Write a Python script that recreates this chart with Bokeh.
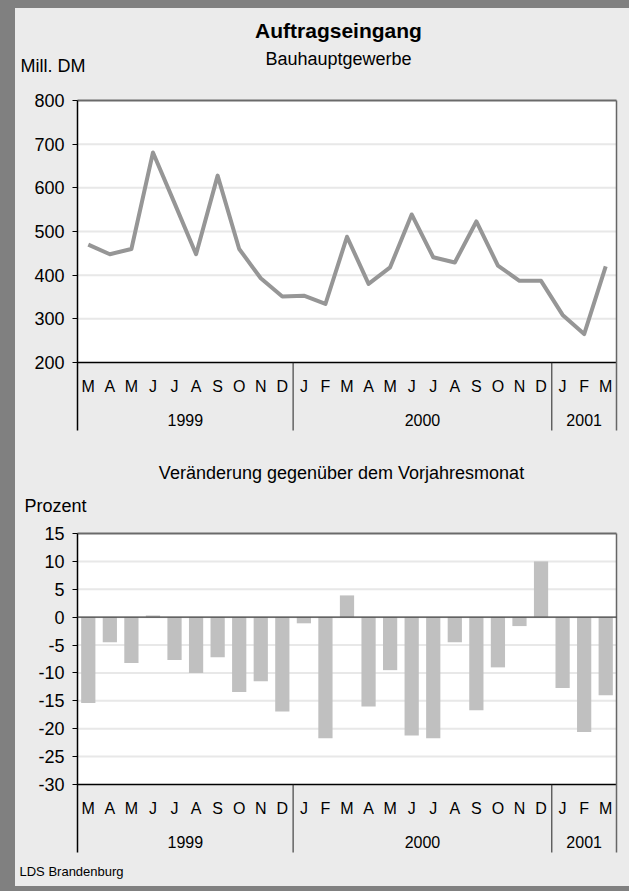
from bokeh.plotting import figure
from bokeh.models import Range1d, FixedTicker, ColumnDataSource, Div
from bokeh.layouts import row, column
from bokeh.embed import file_html
from bokeh.resources import INLINE
from bokeh.core.properties import value

# ---------------- data ----------------
months = ["M", "A", "M", "J", "J", "A", "S", "O", "N", "D",
          "J", "F", "M", "A", "M", "J", "J", "A", "S", "O", "N", "D",
          "J", "F", "M"]
years = ["1999", "2000", "2001"]
months_per_year = [10, 12, 3]

orders = [470, 448, 460, 681, 565, 448, 628, 460, 393, 351,
          353, 334, 488, 380, 418, 539, 441, 429, 523, 422, 387, 387,
          309, 265, 420]
change = [-15.4, -4.5, -8.2, 0.3, -7.7, -10.0, -7.2, -13.4, -11.5, -16.9,
          -1.1, -21.7, 3.9, -16.0, -9.5, -21.2, -21.7, -4.5, -16.7, -9.0, -1.6, 10.0,
          -12.7, -20.6, -14.0]

orders_ticks = [200, 300, 400, 500, 600, 700, 800]
change_ticks = [-30, -25, -20, -15, -10, -5, 0, 5, 10, 15]

title = "Auftragseingang"
subtitle = "Bauhauptgewerbe"
unit1 = "Mill. DM"
title2 = "Veränderung gegenüber dem Vorjahresmonat"
unit2 = "Prozent"
source_note = "LDS Brandenburg"

# ---------------- layout constants (page pixels) ----------------
FONT = "Liberation Sans"
BG = "#EBEBEB"
FRAME_GRAY = "#808080"
PAGE_W, PAGE_H = 629, 891
BAND_L, BAND_T, BAND_B = 15, 8, 5
FIG_W = PAGE_W - BAND_L
AREA_L, AREA_R = 77, 616          # plotting area left/right (page x)
n = len(months)
PPU = (AREA_R - AREA_L) / n


def xdat(px):
    return -0.5 + (px - AREA_L) / PPU


def make_fig(top_px, H, ticks, tick_top_px, tick_bot_px):
    upp = (ticks[-1] - ticks[0]) / (tick_bot_px - tick_top_px)

    def ydat(py):
        return ticks[-1] - (py - tick_top_px) * upp

    p = figure(width=FIG_W, height=H,
               x_range=Range1d(xdat(BAND_L), xdat(BAND_L + FIG_W)),
               y_range=Range1d(ydat(top_px + H), ydat(top_px)),
               output_backend="svg", toolbar_location=None, x_axis_location=None,
               min_border=0, min_border_left=0, min_border_right=0,
               min_border_top=0, min_border_bottom=0,
               background_fill_color=BG, border_fill_color=BG,
               outline_line_color=None, margin=0)
    ax = p.yaxis[0]
    ax.fixed_location = -0.5
    ax.ticker = FixedTicker(ticks=ticks)
    ax.major_label_overrides = {t: str(t) for t in ticks}
    ax.axis_line_color = None
    ax.major_tick_line_color = "black"
    ax.major_tick_out = 5
    ax.major_tick_in = 0
    ax.minor_tick_line_color = None
    ax.major_label_standoff = 8
    ax.major_label_text_font = FONT
    ax.major_label_text_font_size = "18px"
    ax.major_label_text_color = "black"
    p.xgrid.visible = False
    p.ygrid.visible = False

    x_lo, x_hi = -0.5, n - 0.5
    # white plotting area
    p.quad(left=[x_lo], right=[x_hi], bottom=[ticks[0]], top=[ticks[-1]],
           fill_color="white", line_color=None)
    # grid lines
    inner = ticks[1:-1]
    p.segment(x0=[x_lo] * len(inner), x1=[x_hi] * len(inner), y0=inner, y1=inner,
              line_color="#D0D0D0", line_width=2, line_dash="1 1")
    # top border and base line
    p.segment(x0=[x_lo], x1=[x_hi], y0=[ticks[-1]], y1=[ticks[-1]],
              line_color="#6A6A6A", line_width=2)
    p.segment(x0=[x_lo], x1=[x_hi], y0=[ticks[0]], y1=[ticks[0]],
              line_color="black", line_width=1.5)

    # separators
    bounds = [-0.5]
    for c in months_per_year:
        bounds.append(bounds[-1] + c)
    sep_bot = ydat(tick_bot_px + 68)
    tops = [ticks[-1]] + [ticks[0]] * (len(bounds) - 2) + [ticks[-1]]
    colors = ["black"] + ["#202020"] * (len(bounds) - 2) + ["#666666"]
    widths = [1.5] + [1] * (len(bounds) - 2) + [1.5]
    src = ColumnDataSource(dict(x=bounds, y0=[sep_bot] * len(bounds), y1=tops, c=colors, w=widths))
    p.segment(x0="x", x1="x", y0="y0", y1="y1", line_color="c", line_width="w", source=src)

    # month labels
    p.text(x=list(range(n)), y=[ydat(tick_bot_px + 24)] * n, text=months,
           text_font=value(FONT), text_font_size="16px", text_align="center",
           text_baseline="middle", text_color="black")
    # year labels
    centers = [(bounds[i] + bounds[i + 1]) / 2 for i in range(len(years))]
    p.text(x=centers, y=[ydat(tick_bot_px + 57)] * len(years), text=years,
           text_font=value(FONT), text_font_size="16px", text_align="center",
           text_baseline="middle", text_color="black")
    return p, ydat


def add_text(p, px, y, txt, size, align="left", bold=False):
    p.text(x=[xdat(px)], y=[y], text=[txt], text_font=value(FONT), text_font_size=size,
           text_font_style="bold" if bold else "normal", text_align=align,
           text_baseline="middle", text_color="black")


# ---------------- top chart ----------------
TOP1, H1 = BAND_T, 444
p1, yd1 = make_fig(TOP1, H1, orders_ticks, 100, 362)
p1.line(x=list(range(n)), y=orders, line_color="#969696", line_width=4, line_join="round")
add_text(p1, 338, yd1(30), title, "21px", align="center", bold=True)
add_text(p1, 338, yd1(58), subtitle, "18px", align="center")
add_text(p1, 20, yd1(65), unit1, "18px")

# ---------------- bottom chart ----------------
TOP2 = TOP1 + H1
H2 = PAGE_H - BAND_B - TOP2
p2, yd2 = make_fig(TOP2, H2, change_ticks, 533, 784)
p2.vbar(x=list(range(n)), top=change, bottom=0, width=0.66, fill_color="#C0C0C0", line_color=None)
p2.segment(x0=[-0.5], x1=[n - 0.5], y0=[0], y1=[0], line_color="#404040", line_width=1.2)
add_text(p2, 341, yd2(472), title2, "18px", align="center")
add_text(p2, 24, yd2(505.5), unit2, "18px")
add_text(p2, 19, yd2(871), source_note, "13px")

left_band = Div(text="", width=BAND_L, height=PAGE_H, margin=0,
                styles={"background-color": FRAME_GRAY})
top_band = Div(text="", width=FIG_W, height=BAND_T, margin=0,
               styles={"background-color": FRAME_GRAY})
bottom_band = Div(text="", width=FIG_W, height=BAND_B, margin=0,
                  styles={"background-color": FRAME_GRAY})
col = column(top_band, p1, p2, bottom_band, spacing=0, styles={"background-color": BG})
layout = row(left_band, col, spacing=0)

open("out.html", "w").write(file_html(layout, INLINE))
